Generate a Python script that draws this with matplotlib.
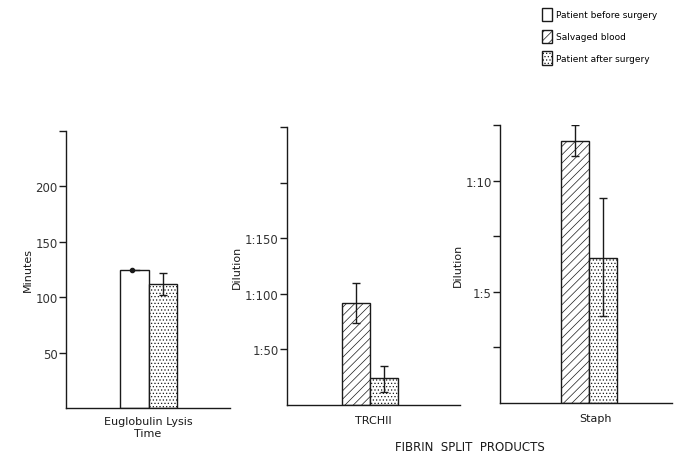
import matplotlib.pyplot as plt
import matplotlib.patches as mpatches

# data
groups = ["Patient before surgery", "Salvaged blood", "Patient after surgery"]

elt_vals = [125, 112]          # before, after (minutes)
elt_err = [0, 10]
trc_vals = [92, 24]            # salvaged, after (dilution scale)
trc_lo = [18, 12]
trc_hi = [18, 11]
staph_vals = [11.8, 6.5]       # salvaged, after
staph_lo = [0.7, 2.6]
staph_hi = [0.7, 2.7]

elt_ticks = [50, 100, 150, 200, 250]
elt_labels = ["50", "100", "150", "200", ""]
trc_ticks = [50, 100, 150, 200, 250]
trc_labels = ["1:50", "1:100", "1:150", "", ""]
staph_ticks = [2.5, 5, 7.5, 10, 12.5]
staph_labels = ["", "1:5", "", "1:10", ""]

W, H = 676, 456
ink = "#1a1a1a"
plt.rcParams["hatch.linewidth"] = 0.5
plt.rcParams["hatch.color"] = "#666666"

fig = plt.figure(figsize=(W / 100, H / 100), dpi=100)


def make_ax(x0, x1, ytop, ybot):
    ax = fig.add_axes([x0 / W, (H - ybot) / H, (x1 - x0) / W, (ybot - ytop) / H])
    for s in ["top", "right"]:
        ax.spines[s].set_visible(False)
    for s in ["left", "bottom"]:
        ax.spines[s].set_color(ink)
        ax.spines[s].set_linewidth(1.0)
    ax.set_xticks([])
    ax.tick_params(axis="y", length=5, width=1, color=ink, labelsize=8.5,
                   labelcolor="#333333", pad=1)
    return ax


hatches = ["", "////", "....."]

# panel 1 - euglobulin lysis time
ax1 = make_ax(66, 230, 132, 409)
ax1.bar([0, 1], elt_vals, width=1, color="white", edgecolor=ink, lw=1,
        hatch=[hatches[0], hatches[2]])
ax1.errorbar([1], elt_vals[1:], yerr=elt_err[1:], fmt="none", ecolor=ink,
             capsize=3, lw=1)
ax1.plot([-0.1, 0.15], [elt_vals[0], elt_vals[0]], color=ink, lw=1)
ax1.plot([-0.1], [elt_vals[0]], "o", color=ink, ms=3)
ax1.set_xlim(-2.4, 3.35)
ax1.set_ylim(0, 250)
ax1.set_yticks(elt_ticks)
ax1.set_yticklabels(elt_labels)
ax1.set_ylabel("Minutes", fontsize=8, color=ink, labelpad=2)

# panel 2 - TRCHII
ax2 = make_ax(287, 460, 128, 406)
ax2.bar([0, 1], trc_vals, width=1, color="white", edgecolor=ink, lw=1,
        hatch=[hatches[1], hatches[2]])
ax2.errorbar([0, 1], trc_vals, yerr=[trc_lo, trc_hi], fmt="none", ecolor=ink,
             capsize=3, lw=1)
ax2.set_xlim(-2.48, 3.7)
ax2.set_ylim(0, 250)
ax2.set_yticks(trc_ticks)
ax2.set_yticklabels(trc_labels)
ax2.set_ylabel("Dilution", fontsize=8, color=ink, labelpad=2)

# panel 3 - Staph
ax3 = make_ax(500, 672, 126, 404)
ax3.bar([0, 1], staph_vals, width=1, color="white", edgecolor=ink, lw=1,
        hatch=[hatches[1], hatches[2]])
ax3.errorbar([0, 1], staph_vals, yerr=[staph_lo, staph_hi], fmt="none",
             ecolor=ink, capsize=3, lw=1)
ax3.set_xlim(-2.68, 3.46)
ax3.set_ylim(0, 12.5)
ax3.set_yticks(staph_ticks)
ax3.set_yticklabels(staph_labels)
ax3.set_ylabel("Dilution", fontsize=8, color=ink, labelpad=2)

# category labels
fig.text(148 / W, 1 - 428 / H, "Euglobulin Lysis\nTime", ha="center", va="center",
         fontsize=8, color=ink, linespacing=1.3)
fig.text(373 / W, 1 - 421 / H, "TRCHII", ha="center", va="center", fontsize=8, color=ink)
fig.text(596 / W, 1 - 419 / H, "Staph", ha="center", va="center", fontsize=8, color=ink)
fig.text(470 / W, 1 - 448 / H, "FIBRIN  SPLIT  PRODUCTS", ha="center", va="center",
         fontsize=8.5, color=ink)

# legend
handles = [mpatches.Patch(facecolor="white", edgecolor=ink, hatch=h, lw=1)
           for h in hatches]
fig.legend(handles, groups, loc="upper left", bbox_to_anchor=(538 / W, 1 - 5 / H),
           frameon=False, fontsize=6.5, handlelength=1.1, handleheight=1.9,
           handletextpad=0.5, labelspacing=0.95, borderaxespad=0)

fig.savefig("out.png", dpi=100)
